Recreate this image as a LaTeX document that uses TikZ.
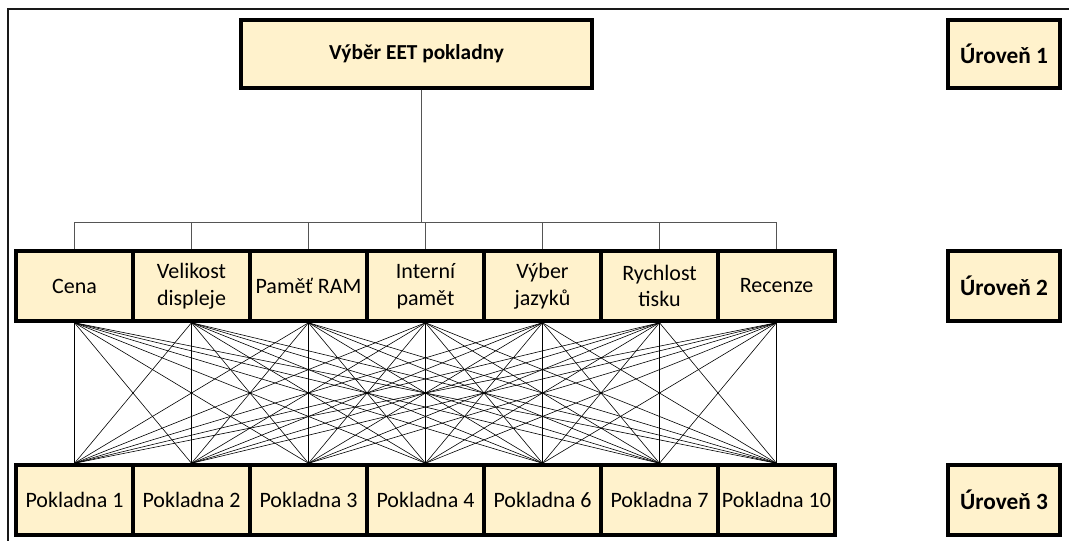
\documentclass[tikz,border=0pt]{standalone}
\usepackage{fontspec}
\setmainfont{Carlito}
\definecolor{boxfill}{HTML}{FFF2CC}
\definecolor{busgray}{HTML}{555555}
\begin{document}
\begin{tikzpicture}[x=0.75pt,y=-0.75pt,
  box/.style={draw=black, line width=2.6pt, fill=boxfill, inner sep=0pt, align=center,
    minimum width=117*0.75pt, minimum height=70*0.75pt,
    font=\fontsize{16.5}{20}\selectfont},
  bbox/.style={box, font=\fontsize{16}{19}\selectfont\bfseries},
  lbox/.style={box, font=\fontsize{17.5}{20}\selectfont\bfseries},
  wire/.style={draw=black, line width=0.45pt},
  bus/.style={draw=busgray, line width=0.6pt}]
\useasboundingbox (0,0) rectangle (1069,540);
\draw[line width=1.8pt, draw=black!90] (8,560) -- (8,9) -- (1090,9);
% top
\node[bbox, minimum width=351*0.75pt, minimum height=68*0.75pt] (top) at (416.5,54) {Výběr EET pokladny};
% level labels
\node[lbox, minimum width=112*0.75pt, minimum height=68*0.75pt] (u1) at (1004,54) {Úroveň 1};
\node[lbox, minimum width=112*0.75pt, minimum height=70*0.75pt] (u2) at (1004,286) {Úroveň 2};
\node[lbox, minimum width=112*0.75pt, minimum height=70*0.75pt] (u3) at (1004,500) {Úroveň 3};
% level 2
\node[box] (c1) at (74.5,286) {Cena};
\node[box] (c2) at (191.5,286) {Velikost\\displeje};
\node[box] (c3) at (308.5,286) {Paměť RAM};
\node[box] (c4) at (425.5,286) {Interní\\pamět};
\node[box] (c5) at (542.5,286) {Výber\\jazyků};
\node[box] (c6) at (659.5,286) {Rychlost\\tisku};
\node[box] (c7) at (776.5,286) {Recenze};
% level 3
\node[box] (p1) at (74.5,500) {Pokladna 1};
\node[box] (p2) at (191.5,500) {Pokladna 2};
\node[box] (p3) at (308.5,500) {Pokladna 3};
\node[box] (p4) at (425.5,500) {Pokladna 4};
\node[box] (p5) at (542.5,500) {Pokladna 6};
\node[box] (p6) at (659.5,500) {Pokladna 7};
\node[box] (p7) at (776.5,500) {Pokladna 10};
% bus
\coordinate (tj) at ([xshift=4.5*0.75pt]top.south);
\coordinate (bj) at (tj |- 0,222);
\draw[bus] (tj) -- (bj);
\coordinate (bl) at (c1.north |- bj);
\coordinate (br) at (c7.north |- bj);
\draw[bus] (bl) -- (br);
\foreach \i in {1,...,7}{
  \draw[bus] (c\i.north |- bj) -- (c\i.north);
}
% full connections
\foreach \i in {1,...,7}{
  \foreach \j in {1,...,7}{
    \draw[wire] (c\i.south) -- (p\j.north);
  }
}
\end{tikzpicture}
\end{document}
